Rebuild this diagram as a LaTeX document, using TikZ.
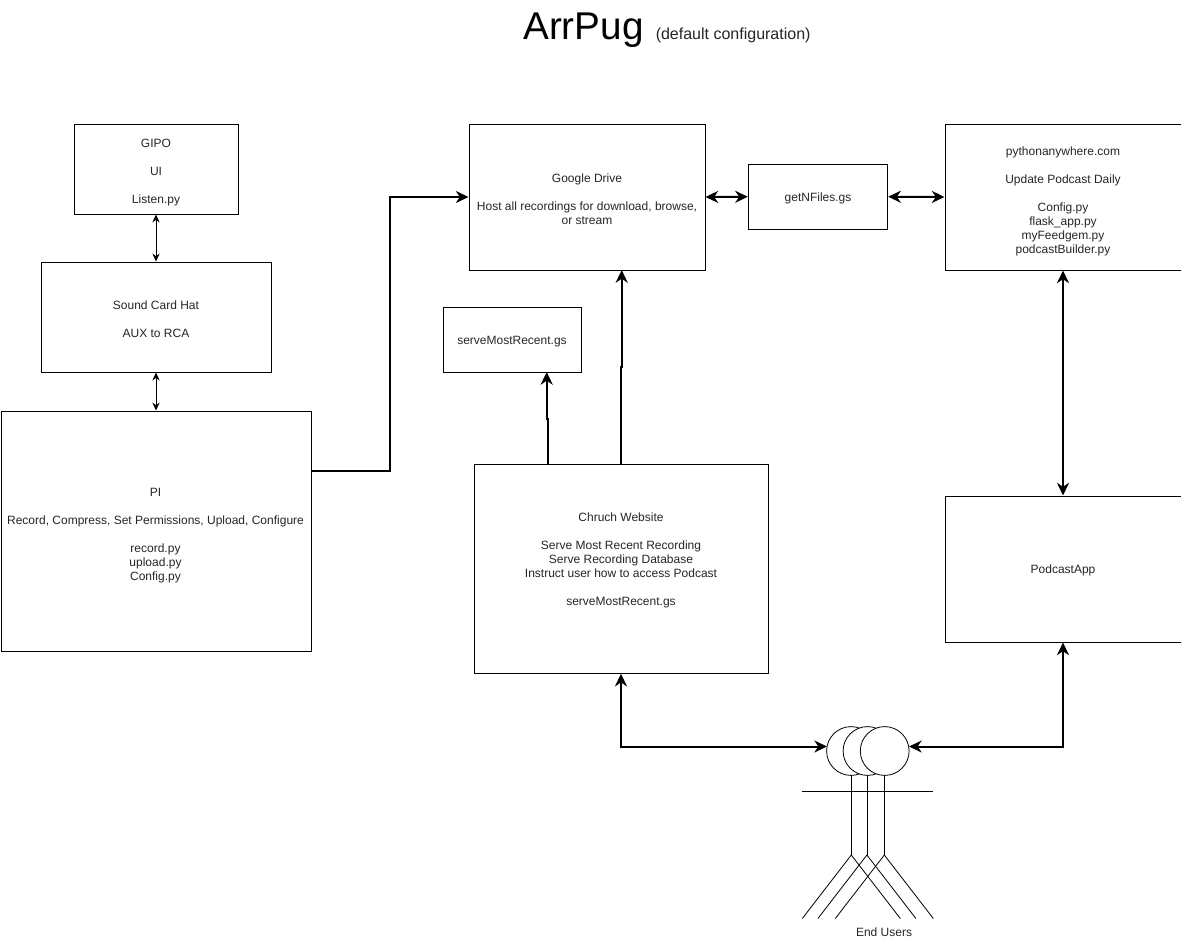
\documentclass[tikz,border=0pt]{standalone}
\usepackage{fontspec}
\setmainfont{Liberation Sans}
\usetikzlibrary{arrows.meta,calc}
\tikzset{
  x=0.75pt,y=-0.75pt,
  box/.style={draw=black,line width=0.75pt,fill=white,inner sep=0pt},
  boxtext/.style={inner sep=0pt,align=center,text=black!85,font=\fontsize{9}{10.5}\selectfont},
  head/.style={circle,draw=black,line width=0.6pt,fill=white,minimum size=36.6pt,inner sep=0pt},
  limb/.style={draw=black,line width=0.6pt},
  thin link/.style={line width=0.75pt,{Stealth[length=6pt,width=5.5pt,inset=2pt]}-{Stealth[length=6pt,width=5.5pt,inset=2pt]}},
  thick link/.style={line width=1.5pt,{Stealth[length=9.5pt,width=9pt,inset=3pt]}-{Stealth[length=9.5pt,width=9pt,inset=3pt]}},
  thick one/.style={line width=1.5pt,-{Stealth[length=9.5pt,width=9pt,inset=3pt]}},
}
\begin{document}
\begin{tikzpicture}
\useasboundingbox (0,0) rectangle (1181,939);
\fill[white] (0,0) rectangle (1181,939);
% title
\node[anchor=base west,inner sep=0pt,font=\fontsize{29}{32}\selectfont] (title) at (523,39) {ArrPug};
\node[anchor=base west,inner sep=0pt,text=black!85,font=\fontsize{12}{14}\selectfont] (subtitle) at (655.5,39) {(default configuration)};
% boxes
\node[box,minimum width=123pt,minimum height=67.5pt] (gipo) at (156,169) {};
\node[box,minimum width=172.5pt,minimum height=82.5pt] (sound) at (156,317) {};
\node[box,minimum width=232.5pt,minimum height=180pt] (pi) at (156,531) {};
\node[box,minimum width=177pt,minimum height=109.5pt] (drive) at (587,197) {};
\node[box,minimum width=104.5pt,minimum height=48.75pt] (getn) at (818,196.7) {};
\node[box,minimum width=177pt,minimum height=109.5pt] (python) at (1063,197) {};
\node[box,minimum width=103.5pt,minimum height=48.75pt] (serve) at (512,339.7) {};
\node[box,minimum width=220.5pt,minimum height=156.75pt] (church) at (621,568.7) {};
\node[box,minimum width=177pt,minimum height=109.5pt] (app) at (1063,569) {};
% box texts
\node[boxtext] (gipotext) at (156,173) {GIPO\\ \\UI\\ \\Listen.py};
\node[boxtext] (soundtext) at (156,319) {Sound Card Hat\\ \\AUX to RCA};
\node[boxtext] (pitext) at (155.5,535.5) {PI\\ \\Record, Compress, Set Permissions, Upload, Configure\\ \\record.py\\upload.py\\Config.py};
\node[boxtext] (drivetext) at (587,199) {Google Drive\\ \\Host all recordings for download, browse,\\or stream};
\node[boxtext] (getntext) at (818,198.5) {getNFiles.gs};
\node[boxtext] (pythontext) at (1063,201) {pythonanywhere.com\\ \\Update Podcast Daily\\ \\Config.py\\flask\_app.py\\myFeedgem.py\\podcastBuilder.py};
\node[boxtext] (servetext) at (512,341.5) {serveMostRecent.gs};
\node[boxtext] (churchtext) at (621,560.5) {Chruch Website\\ \\Serve Most Recent Recording\\Serve Recording Database\\Instruct user how to access Podcast\\ \\serveMostRecent.gs};
\node[boxtext] (apptext) at (1063,570.5) {PodcastApp};
% end users
\foreach \n/\cx in {a/851.3,b/866.9,c/884.3}{
  \draw[limb] (\cx,775) -- (\cx,855);
  \draw[limb] (\cx,855) -- ++(-49,63.5);
  \draw[limb] (\cx,855) -- ++(49,63.5);
  \draw[limb] (\cx-49,791) -- (\cx+49,791);
}
\node[head] (heada) at (851,751) {};
\node[head] (headb) at (867.5,751) {};
\node[head] (headc) at (884.7,751) {};
\node[boxtext] (endusers) at (884,932) {End Users};
% anchors
\coordinate (piout) at (311,471);
\coordinate (userl) at (827,746.5);
\coordinate (userr) at (909,746.5);
\coordinate (churcha) at (548,464);
\coordinate (churchb) at (621,464);
% connectors
\draw[thin link] (gipo.south) -- (sound.north);
\draw[thin link] (sound.south) -- (pi.north);
\draw[thick one] (piout) -- (390,471) -- (390,197) -- (drive.west);
\draw[thick link] (drive.east) -- (getn.west);
\draw[thick link] (getn.east) -- (python.west);
\draw[thick link] (python.south) -- (app.north);
\draw[thick one] (churcha) -- (548,419) -- (546.7,419) -- (546.7,372);
\draw[thick one] (churchb) -- (621,367) -- (621.7,367) -- (621.7,270);
\draw[thick link] (church.south) |- (userl);
\draw[thick link] (app.south) |- (userr);
\end{tikzpicture}
\end{document}
